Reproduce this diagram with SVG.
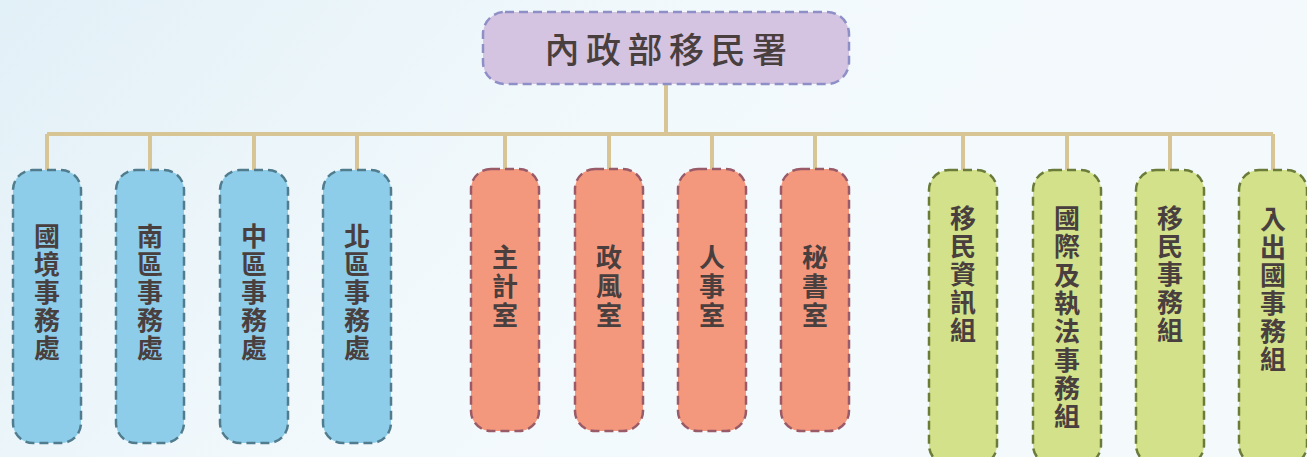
<svg xmlns="http://www.w3.org/2000/svg" width="1307" height="457" viewBox="0 0 1307 457">
<defs>
<linearGradient id="bg" x1="0" y1="0" x2="1" y2="0.3">
<stop offset="0" stop-color="#e2f0f7"/>
<stop offset="0.5" stop-color="#f2f9fc"/>
<stop offset="1" stop-color="#f4fafc"/>
</linearGradient>
</defs>
<style>
.box{stroke-width:2.5;stroke-dasharray:9 5}
.blue{fill:#8ecde9;stroke:#507c8e}
.red{fill:#f4987d;stroke:#9a5b68}
.green{fill:#d3e28a;stroke:#6a7b3a}
.top{fill:#d5c4e1;stroke:#8f8fc8}
.lbl{font-family:"Noto Sans CJK TC","Noto Sans CJK SC",sans-serif;font-size:26px;font-weight:700;fill:#4a3f3f;text-anchor:middle}
.title{font-family:"Noto Sans CJK TC","Noto Sans CJK SC",sans-serif;font-size:35px;font-weight:500;fill:#4a3f3f;text-anchor:middle;letter-spacing:6.5px}
.conn{stroke:#d7c595;stroke-width:4;fill:none}
</style>
<rect width="1307" height="457" fill="url(#bg)"/>
<g id="connectors">
<path class="conn" d="M666 84V134M47 134H1273M47 134V170M150 134V170M254 134V170M357 134V170M505 134V169M609 134V169M712 134V169M815 134V169M963 134V170M1067 134V170M1170 134V170M1273 134V170"/>
</g>
<g id="root">
<rect class="box top" x="483" y="12" width="366" height="72" rx="22"/>
<text class="title" x="669" y="63">內政部移民署</text>
</g>
<g id="n1"><rect class="box blue" x="13" y="170" width="68" height="273" rx="20"/>
<text class="lbl" y="246"><tspan x="47">國</tspan><tspan x="47" dy="28">境</tspan><tspan x="47" dy="28">事</tspan><tspan x="47" dy="28">務</tspan><tspan x="47" dy="28">處</tspan></text></g>
<g id="n2"><rect class="box blue" x="116" y="170" width="68" height="273" rx="20"/>
<text class="lbl" y="246"><tspan x="150">南</tspan><tspan x="150" dy="28">區</tspan><tspan x="150" dy="28">事</tspan><tspan x="150" dy="28">務</tspan><tspan x="150" dy="28">處</tspan></text></g>
<g id="n3"><rect class="box blue" x="220" y="170" width="68" height="273" rx="20"/>
<text class="lbl" y="246"><tspan x="254">中</tspan><tspan x="254" dy="28">區</tspan><tspan x="254" dy="28">事</tspan><tspan x="254" dy="28">務</tspan><tspan x="254" dy="28">處</tspan></text></g>
<g id="n4"><rect class="box blue" x="323" y="170" width="68" height="273" rx="20"/>
<text class="lbl" y="246"><tspan x="357">北</tspan><tspan x="357" dy="28">區</tspan><tspan x="357" dy="28">事</tspan><tspan x="357" dy="28">務</tspan><tspan x="357" dy="28">處</tspan></text></g>
<g id="n5"><rect class="box red" x="471" y="169" width="68" height="262" rx="20"/>
<text class="lbl" y="267"><tspan x="505">主</tspan><tspan x="505" dy="29">計</tspan><tspan x="505" dy="29">室</tspan></text></g>
<g id="n6"><rect class="box red" x="575" y="169" width="68" height="262" rx="20"/>
<text class="lbl" y="267"><tspan x="609">政</tspan><tspan x="609" dy="29">風</tspan><tspan x="609" dy="29">室</tspan></text></g>
<g id="n7"><rect class="box red" x="678" y="169" width="68" height="262" rx="20"/>
<text class="lbl" y="267"><tspan x="712">人</tspan><tspan x="712" dy="29">事</tspan><tspan x="712" dy="29">室</tspan></text></g>
<g id="n8"><rect class="box red" x="781" y="169" width="68" height="262" rx="20"/>
<text class="lbl" y="267"><tspan x="815">秘</tspan><tspan x="815" dy="29">書</tspan><tspan x="815" dy="29">室</tspan></text></g>
<g id="n9"><rect class="box green" x="929" y="170" width="68" height="295" rx="20"/>
<text class="lbl" y="228"><tspan x="963">移</tspan><tspan x="963" dy="28">民</tspan><tspan x="963" dy="28">資</tspan><tspan x="963" dy="28">訊</tspan><tspan x="963" dy="28">組</tspan></text></g>
<g id="n10"><rect class="box green" x="1033" y="170" width="68" height="295" rx="20"/>
<text class="lbl" y="228"><tspan x="1067">國</tspan><tspan x="1067" dy="28.3">際</tspan><tspan x="1067" dy="28.3">及</tspan><tspan x="1067" dy="28.3">執</tspan><tspan x="1067" dy="28.3">法</tspan><tspan x="1067" dy="28.3">事</tspan><tspan x="1067" dy="28.3">務</tspan><tspan x="1067" dy="28.3">組</tspan></text></g>
<g id="n11"><rect class="box green" x="1136" y="170" width="68" height="295" rx="20"/>
<text class="lbl" y="228"><tspan x="1170">移</tspan><tspan x="1170" dy="28">民</tspan><tspan x="1170" dy="28">事</tspan><tspan x="1170" dy="28">務</tspan><tspan x="1170" dy="28">組</tspan></text></g>
<g id="n12"><rect class="box green" x="1239" y="170" width="68" height="295" rx="20"/>
<text class="lbl" y="229"><tspan x="1273">入</tspan><tspan x="1273" dy="28">出</tspan><tspan x="1273" dy="28">國</tspan><tspan x="1273" dy="28">事</tspan><tspan x="1273" dy="28">務</tspan><tspan x="1273" dy="28">組</tspan></text></g>
</svg>
